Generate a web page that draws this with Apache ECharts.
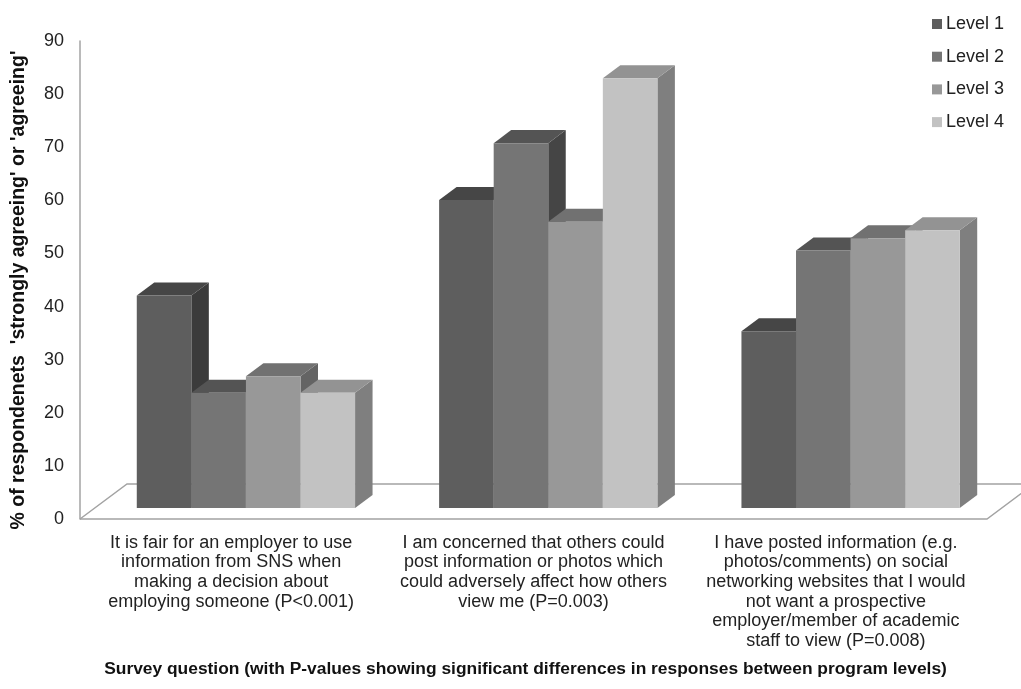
<!DOCTYPE html>
<html>
<head>
<meta charset="utf-8">
<script src="https://cdn.jsdelivr.net/npm/echarts@6/dist/echarts.min.js"></script>
<style>
  html, body { margin: 0; padding: 0; background: #ffffff; }
  #chart { width: 1021px; height: 689px; }
</style>
</head>
<body>
<div id="chart"></div>
<script>
// Survey questions (category axis labels)
const categories = [
  "It is fair for an employer to use\ninformation from SNS when\nmaking a decision about\nemploying someone (P<0.001)",
  "I am concerned that others could\npost information or photos which\ncould adversely affect how others\nview me (P=0.003)",
  "I have posted information (e.g.\nphotos/comments) on social\nnetworking websites that I would\nnot want a prospective\nemployer/member of academic\nstaff to view (P=0.008)"
];

// % of respondents strongly agreeing or agreeing, by program level
const level1 = [40, 58, 33.3];
const level2 = [21.7, 68.7, 48.5];
const level3 = [24.8, 53.9, 50.8];
const level4 = [21.7, 80.9, 52.3];

const levelNames = ["Level 1", "Level 2", "Level 3", "Level 4"];
const yTicks = { min: 0, max: 90, interval: 10 };

// Shading for the three visible faces of each column
const faceColors = [
  { front: "#5e5e5e", top: "#464646", side: "#3b3b3b" },
  { front: "#757575", top: "#545454", side: "#454545" },
  { front: "#989898", top: "#717171", side: "#646464" },
  { front: "#c2c2c2", top: "#939393", side: "#7f7f7f" }
];

// Oblique projection of the floor depth, and where the columns sit within it
const FLOOR_DX = 47, FLOOR_DY = -35;
const FRONT_T = 0.314, BACK_T = 0.686;
const BAR_FRAC = 0.1805;
const FONT = "'Liberation Sans', Arial, sans-serif";

function columnRenderer(level) {
  const c = faceColors[level];
  return function (params, api) {
    const cat = api.value(0);
    const base = api.coord([cat, 0]);
    const top = api.coord([cat, api.value(1)]);
    const band = api.size([1, 0])[0];
    const bw = band * BAR_FRAC;
    const fx = FLOOR_DX * FRONT_T, fy = FLOOR_DY * FRONT_T;
    const dx = FLOOR_DX * (BACK_T - FRONT_T), dy = FLOOR_DY * (BACK_T - FRONT_T);
    const x0 = base[0] - 2 * bw + level * bw + fx;
    const x1 = x0 + bw;
    const yb = base[1] + fy;
    const yt = top[1] + fy;
    return {
      type: "group",
      children: [
        { type: "polygon", shape: { points: [[x1, yb], [x1 + dx, yb + dy], [x1 + dx, yt + dy], [x1, yt]] },
          style: { fill: c.side } },
        { type: "polygon", shape: { points: [[x0, yt], [x1, yt], [x1 + dx, yt + dy], [x0 + dx, yt + dy]] },
          style: { fill: c.top } },
        { type: "rect", shape: { x: x0, y: yt, width: bw, height: yb - yt },
          style: { fill: c.front } }
      ]
    };
  };
}

// Floor outline drawn from the plotting rectangle
function floorRenderer(params) {
  const r = params.coordSys;
  const fl = [r.x, r.y + r.height];
  const fr = [r.x + r.width, r.y + r.height];
  const bl = [fl[0] + FLOOR_DX, fl[1] + FLOOR_DY];
  const br = [fr[0] + FLOOR_DX, fr[1] + FLOOR_DY];
  const st = { stroke: "#a3a3a3", lineWidth: 1.5, fill: null };
  return {
    type: "group",
    children: [
      { type: "polyline", shape: { points: [fl, bl, br] }, style: st },
      { type: "polyline", shape: { points: [fl, fr, br] }, style: st }
    ]
  };
}

const seriesData = [level1, level2, level3, level4];

const series = [{
  type: "custom",
  name: "floor",
  renderItem: floorRenderer,
  data: [[0, 0]],
  encode: { x: 0, y: 1 },
  clip: false,
  silent: true,
  z: 1
}].concat(seriesData.map((vals, i) => ({
  type: "custom",
  name: levelNames[i],
  renderItem: columnRenderer(i),
  data: vals.map((v, k) => [k, v]),
  encode: { x: 0, y: 1 },
  itemStyle: { color: faceColors[i].front },
  clip: false,
  z: 2
})));

const chart = echarts.init(document.getElementById("chart"), null, { renderer: "canvas" });
chart.setOption({
  animation: false,
  backgroundColor: "#ffffff",
  textStyle: { fontFamily: FONT },
  grid: { left: 80, right: 34, top: 41, bottom: 170, containLabel: false, outerBoundsMode: "none" },
  legend: {
    data: levelNames,
    orient: "vertical",
    left: 932,
    top: 15,
    padding: 0,
    itemWidth: 10,
    itemHeight: 10,
    itemGap: 14.7,
    icon: "rect",
    textStyle: { fontSize: 18, color: "#222222", fontFamily: FONT, padding: [0, 0, 0, -1] }
  },
  xAxis: {
    type: "category",
    data: categories,
    boundaryGap: true,
    axisLine: { show: false },
    axisTick: { show: false },
    axisLabel: {
      interval: 0,
      margin: 14,
      fontSize: 18,
      lineHeight: 19.6,
      color: "#222222",
      fontFamily: FONT,
      align: "center"
    },
    name: "Survey question (with P-values showing significant differences in responses between program levels)",
    nameLocation: "middle",
    nameGap: 142,
    nameTextStyle: { fontSize: 17.4, fontWeight: "bold", color: "#111111", fontFamily: FONT, padding: [0, 16, 0, 0] }
  },
  yAxis: {
    type: "value",
    min: yTicks.min,
    max: yTicks.max,
    interval: yTicks.interval,
    axisLine: { show: true, lineStyle: { color: "#a3a3a3", width: 1.5 } },
    axisTick: { show: false },
    splitLine: { show: false },
    axisLabel: { fontSize: 18, color: "#222222", margin: 16, fontFamily: FONT },
    name: "% of respondenets  'strongly agreeing' or 'agreeing'",
    nameLocation: "middle",
    nameGap: 51,
    nameTextStyle: { fontSize: 19.5, fontWeight: "bold", color: "#111111", fontFamily: FONT, padding: [0, 20, 0, 0] }
  },
  tooltip: { show: false },
  series: series
});
</script>
</body>
</html>
